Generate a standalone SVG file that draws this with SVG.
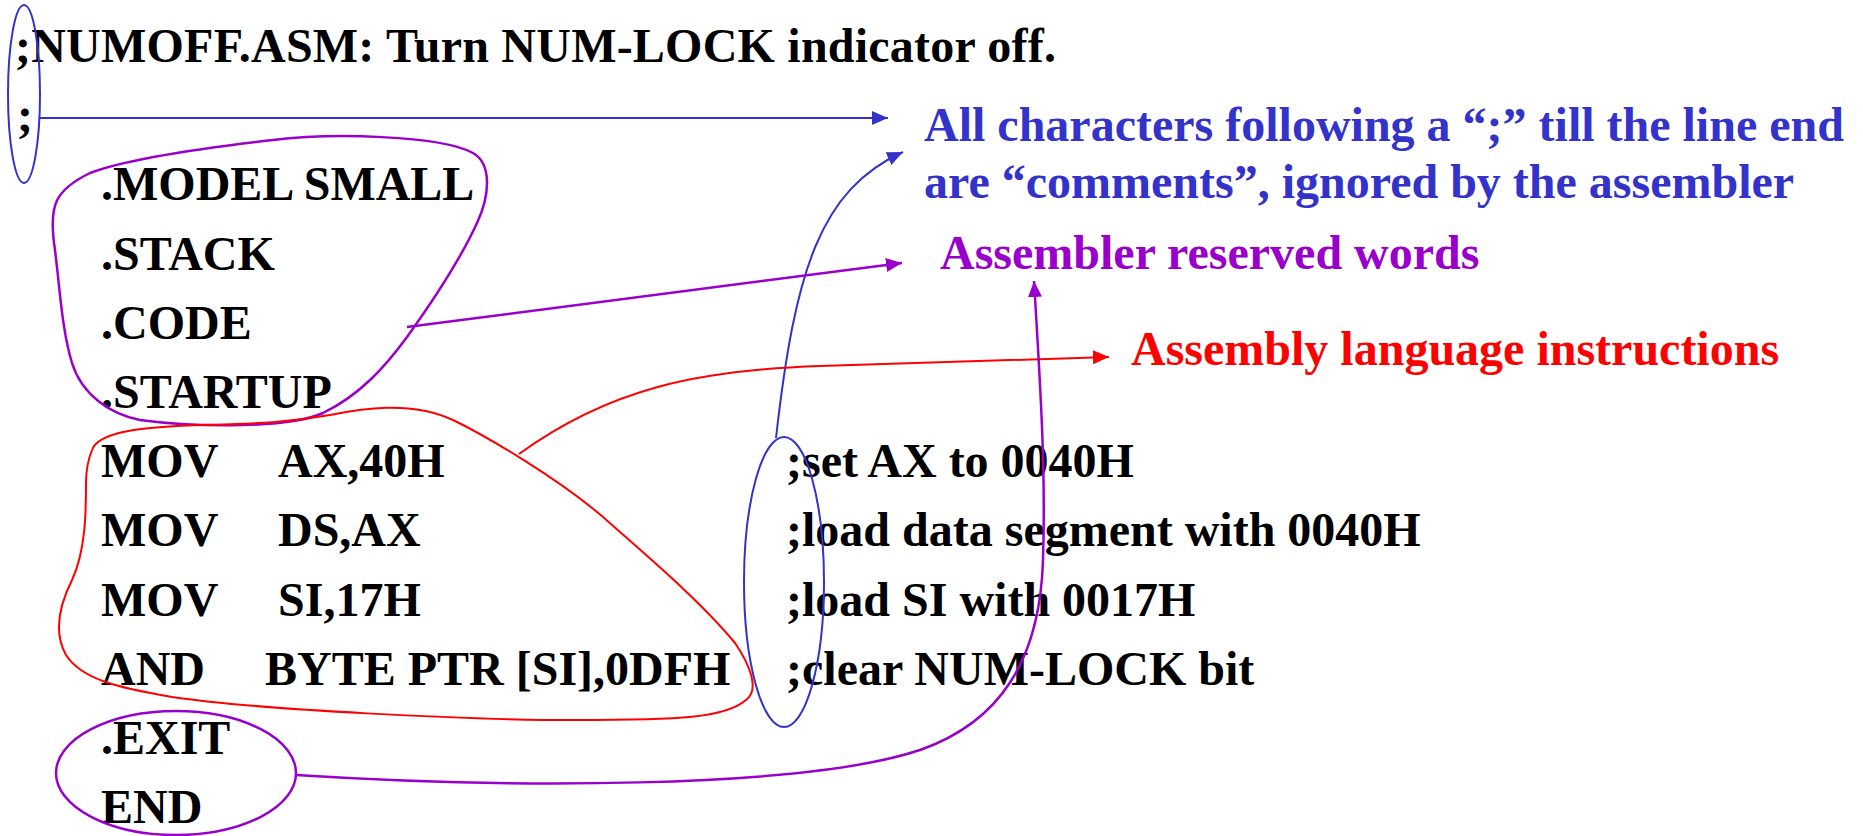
<svg xmlns="http://www.w3.org/2000/svg" width="1863" height="836" viewBox="0 0 1863 836">
<style>
text{font-family:"Liberation Serif","Times New Roman",serif;font-weight:bold;font-size:48px}
.k{fill:#000}
.b{fill:#3333CC}
.p{fill:#9900CC}
.r{fill:#FF0000}
.sb{fill:none;stroke:#3333CC;stroke-width:2}
.sp{fill:none;stroke:#9900CC;stroke-width:2.5}
.sr{fill:none;stroke:#FF0000;stroke-width:2}
</style>
<defs>
<marker id="mb" viewBox="0 0 16 14" refX="16" refY="7" markerWidth="16" markerHeight="14" markerUnits="userSpaceOnUse" orient="auto"><path d="M0,0 L16,7 L0,14 z" fill="#3333CC"/></marker>
<marker id="mp" viewBox="0 0 16 14" refX="16" refY="7" markerWidth="16" markerHeight="14" markerUnits="userSpaceOnUse" orient="auto"><path d="M0,0 L16,7 L0,14 z" fill="#9900CC"/></marker>
<marker id="mr" viewBox="0 0 16 14" refX="16" refY="7" markerWidth="16" markerHeight="14" markerUnits="userSpaceOnUse" orient="auto"><path d="M0,0 L16,7 L0,14 z" fill="#FF0000"/></marker>
</defs>
<rect width="1863" height="836" fill="#fff"/>

<g id="code">
<text class="k" x="15" y="62" textLength="1041" lengthAdjust="spacing">;NUMOFF.ASM: Turn NUM-LOCK indicator off.</text>
<text class="k" x="17" y="131">;</text>
<text class="k" x="101" y="200">.MODEL SMALL</text>
<text class="k" x="101" y="270">.STACK</text>
<text class="k" x="101" y="339">.CODE</text>
<text class="k" x="101" y="408">.STARTUP</text>
<text class="k" x="101" y="477">MOV</text><text class="k" x="278" y="477">AX,40H</text>
<text class="k" x="101" y="546">MOV</text><text class="k" x="278" y="546">DS,AX</text>
<text class="k" x="101" y="616">MOV</text><text class="k" x="278" y="616">SI,17H</text>
<text class="k" x="101" y="685">AND</text><text class="k" x="265" y="685">BYTE PTR [SI],0DFH</text>
<text class="k" x="101" y="754">.EXIT</text>
<text class="k" x="101" y="823">END</text>
<text class="k" x="786" y="477">;set AX to 0040H</text>
<text class="k" x="786" y="546">;load data segment with 0040H</text>
<text class="k" x="786" y="616">;load SI with 0017H</text>
<text class="k" x="786" y="685">;clear NUM-LOCK bit</text>
</g>

<g id="note-comments">
<text class="b" x="924" y="141">All characters following a “;” till the line end</text>
<text class="b" x="924" y="198">are “comments”, ignored by the assembler</text>
</g>
<g id="note-reserved">
<text class="p" x="940" y="269">Assembler reserved words</text>
</g>
<g id="note-instructions">
<text class="r" x="1131" y="365">Assembly language instructions</text>
</g>

<g id="enclosures">
<ellipse class="sb" cx="24" cy="94" rx="16" ry="89"/>
<ellipse class="sb" cx="784" cy="582" rx="40" ry="145"/>
<path class="sp" d="M273,140 C330,133 440,135 473,153 C492,164 490,195 477,223 C460,260 430,305 407,337 C385,367 360,395 323,413 C290,428 200,428 140,420 C110,414 82,395 72,363 C62,330 60,290 55,250 C48,205 55,190 90,173 C130,158 220,146 273,140 Z"/>
<path class="sr" d="M92,450 C98,432 140,427 200,425 C260,424 290,422 330,415 C360,409 410,400 453,420 C490,438 560,480 603,517 C640,550 700,600 735,643 C750,665 760,690 746,700 C725,718 680,720 574,720 C470,720 260,710 172,697 C120,688 82,680 66,655 C52,630 62,600 72,580 C86,550 86,510 86,483 C86,470 88,460 92,450 Z"/>
<ellipse class="sp" cx="176" cy="773" rx="120" ry="62"/>
</g>

<g id="connectors">
<path class="sb" d="M40,118 L888,118" marker-end="url(#mb)"/>
<path class="sb" d="M776,438 C795,270 820,190 903,152" marker-end="url(#mb)"/>
<path class="sp" d="M407,327 L902,263" marker-end="url(#mp)"/>
<path class="sr" d="M519,454 C610,388 700,370 820,366 C950,362 1050,358 1109,357" marker-end="url(#mr)"/>
<path class="sp" d="M296,775 C500,788 800,790 920,750 C1000,722 1040,660 1043,560 C1046,470 1040,380 1034,281" marker-end="url(#mp)"/>
</g>
</svg>
